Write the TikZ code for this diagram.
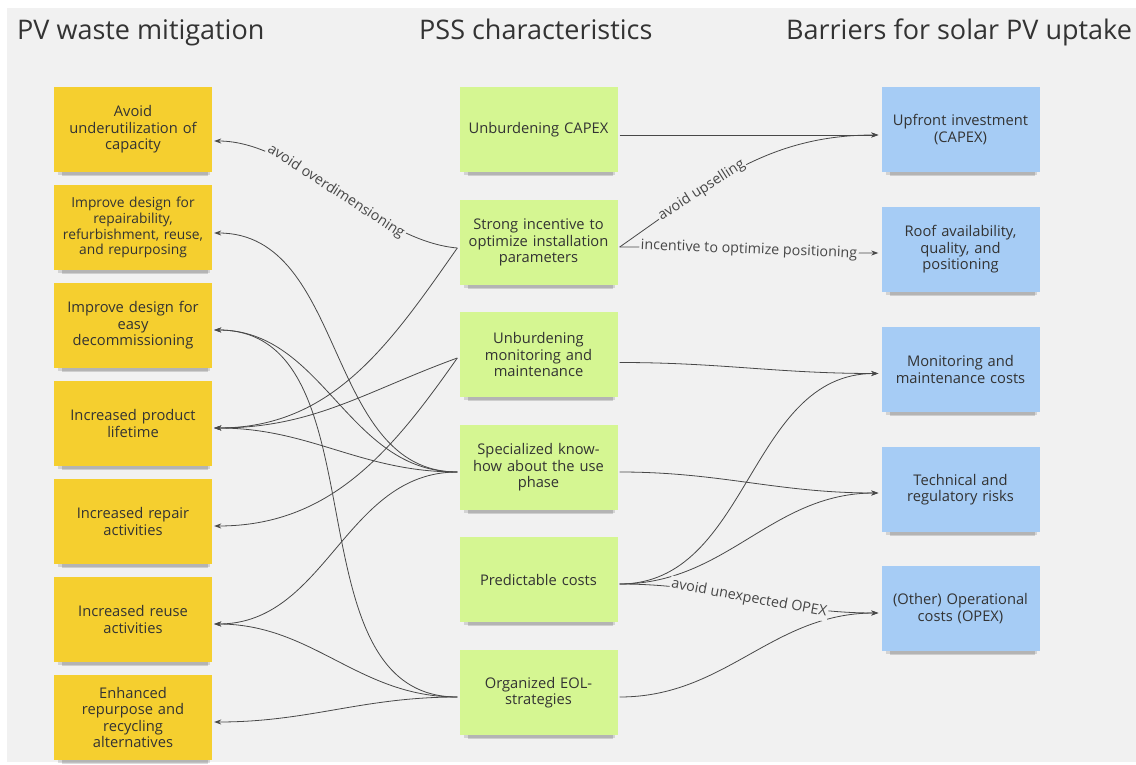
\documentclass[tikz,border=0pt]{standalone}
\usepackage{fontspec}
\setmainfont{Open Sans}
\usetikzlibrary{arrows.meta,calc,shadows}
\definecolor{bgc}{HTML}{F1F1F1}
\definecolor{ylw}{HTML}{F5CF2F}
\definecolor{grn}{HTML}{D5F692}
\definecolor{blu}{HTML}{A6CCF5}
\definecolor{txt}{HTML}{333333}
\definecolor{lnc}{HTML}{484848}
\tikzset{
  sticky/.style={minimum width=158pt, minimum height=85pt, text width=152pt, align=center,
     inner sep=0pt, text=txt, font=\fontsize{14.7}{16.5}\selectfont,
     general shadow={shadow yshift=-8pt, shadow xshift=2pt, shadow scale=0.92, fill=black, opacity=0.14},
     general shadow={shadow yshift=-5pt, shadow xshift=1pt, shadow scale=0.96, fill=black, opacity=0.12}},
  yl/.style={sticky, fill=ylw},
  gr/.style={sticky, fill=grn},
  bl/.style={sticky, fill=blu},
  title/.style={font=\fontsize{27}{30}\selectfont, text=txt, anchor=base west, inner sep=0pt},
  conn/.style={draw=lnc, line width=0.8pt, -{Stealth[length=7pt,width=5pt]}},
  elab/.style={font=\fontsize{14.3}{16}\selectfont, text=txt!90, fill=bgc, inner sep=1.5pt, sloped},
}
\begin{document}
\begin{tikzpicture}[x=1pt, y=-1pt]
\fill[white] (0,0) rectangle (1136,765);
\useasboundingbox (0,0) rectangle (1136,765);
\fill[bgc] (7,8) rectangle (1136,762);

% titles
\node[title] (t1) at (17,40) {PV waste mitigation};
\node[title] (t2) at (419,40) {PSS characteristics};
\node[title] (t3) at (786,40) {Barriers for solar PV uptake};

% left column
\node[yl] (y1) at (133,129.5) {Avoid\\underutilization of\\capacity};
\node[yl, font=\fontsize{13.8}{15.8}\selectfont] (y2) at (133,227.5) {Improve design for\\repairability,\\refurbishment, reuse,\\and repurposing};
\node[yl] (y3) at (133,325.5) {Improve design for\\easy\\decommissioning};
\node[yl] (y4) at (133,423.5) {Increased product\\lifetime};
\node[yl] (y5) at (133,521.5) {Increased repair\\activities};
\node[yl] (y6) at (133,619.5) {Increased reuse\\activities};
\node[yl] (y7) at (133,717.5) {Enhanced\\repurpose and\\recycling\\alternatives};

% middle column
\node[gr] (g1) at (538.5,129.5) {Unburdening CAPEX};
\node[gr] (g2) at (538.5,242.5) {Strong incentive to\\optimize installation\\parameters};
\node[gr] (g3) at (538.5,354.5) {Unburdening\\monitoring and\\maintenance};
\node[gr] (g4) at (538.5,467.5) {Specialized know-\\how about the use\\phase};
\node[gr] (g5) at (538.5,579.5) {Predictable costs};
\node[gr] (g6) at (538.5,692.5) {Organized EOL-\\strategies};

% right column
\node[bl] (b1) at (960.5,129.5) {Upfront investment\\(CAPEX)};
\node[bl] (b2) at (960.5,249.5) {Roof availability,\\quality, and\\positioning};
\node[bl] (b3) at (960.5,369.5) {Monitoring and\\maintenance costs};
\node[bl] (b4) at (960.5,489.5) {Technical and\\regulatory risks};
\node[bl] (b5) at (960.5,608.5) {(Other) Operational\\costs (OPEX)};

% connection points
\coordinate (g1R) at ($(g1.east)+(2,5.5)$);
\coordinate (g2R) at ($(g2.east)+(2,4.5)$);
\coordinate (g3R) at ($(g3.east)+(2,8)$);
\coordinate (g4R) at ($(g4.east)+(2,4.5)$);
\coordinate (g5R) at ($(g5.east)+(2,4.5)$);
\coordinate (g6R) at ($(g6.east)+(2,4.5)$);
\coordinate (g2L) at ($(g2.west)+(-2,5.5)$);
\coordinate (g3L) at ($(g3.west)+(-2,3.5)$);
\coordinate (g4L) at ($(g4.west)+(-2,4.5)$);
\coordinate (g6L) at ($(g6.west)+(-2,4.5)$);
\coordinate (b1L) at ($(b1.west)+(-3,5.5)$);
\coordinate (b2L) at ($(b2.west)+(-3,3.5)$);
\coordinate (b3L) at ($(b3.west)+(-3,4)$);
\coordinate (b4L) at ($(b4.west)+(-3,3.5)$);
\coordinate (b5L) at ($(b5.west)+(-3,4.5)$);
\coordinate (y1R) at ($(y1.east)+(2,11.5)$);
\coordinate (y2R) at ($(y2.east)+(2,5.5)$);
\coordinate (y3R) at ($(y3.east)+(2,4.5)$);
\coordinate (y4R) at ($(y4.east)+(2,4.5)$);
\coordinate (y5R) at ($(y5.east)+(2,4.5)$);
\coordinate (y6R) at ($(y6.east)+(2,4.5)$);
\coordinate (y7R) at ($(y7.east)+(2,4.5)$);

% connectors to the right
\draw[conn] (g1R) -- (b1L);
\draw[conn] (g3R) to[out=0,in=180] (b3L);
\draw[conn] (g4R) to[out=0,in=180] (b4L);
\draw[conn] (g5R) to[out=0,in=180] (b3L);
\draw[conn] (g5R) to[out=0,in=180] (b4L);
\draw[conn] (g6R) to[out=0,in=180] (b5L);

% connectors to the left
\draw[conn] (g4L) to[out=180,in=0] (y2R);
\draw[conn] (g4L) to[out=180,in=0] (y3R);
\draw[conn] (g6L) to[out=180,in=0] (y3R);
\draw[conn] (g2L) to[out=235,in=0] (y4R);
\draw[conn] (g3L) to[out=200,in=0] (y4R);
\draw[conn] (g4L) to[out=180,in=0] (y4R);
\draw[conn] (g3L) to[out=235,in=0] (y5R);
\draw[conn] (g4L) to[out=180,in=0] (y6R);
\draw[conn] (g6L) to[out=180,in=0] (y6R);
\draw[conn] (g6L) to[out=180,in=0] (y7R);

% labelled connectors
\draw[conn] (g2L) to[out=175,in=0,looseness=0.8] node[elab,pos=0.5] {avoid overdimensioning} (y1R);
\draw[conn] (g2R) to[out=35,in=180] node[elab,pos=0.33] {avoid upselling} (b1L);
\draw[conn] (g2R) to[out=0,in=180] node[elab,pos=0.5] {incentive to optimize positioning} (b2L);
\draw[conn] (g5R) to[out=0,in=180] node[elab,pos=0.5] {avoid unexpected OPEX} (b5L);
\end{tikzpicture}
\end{document}
